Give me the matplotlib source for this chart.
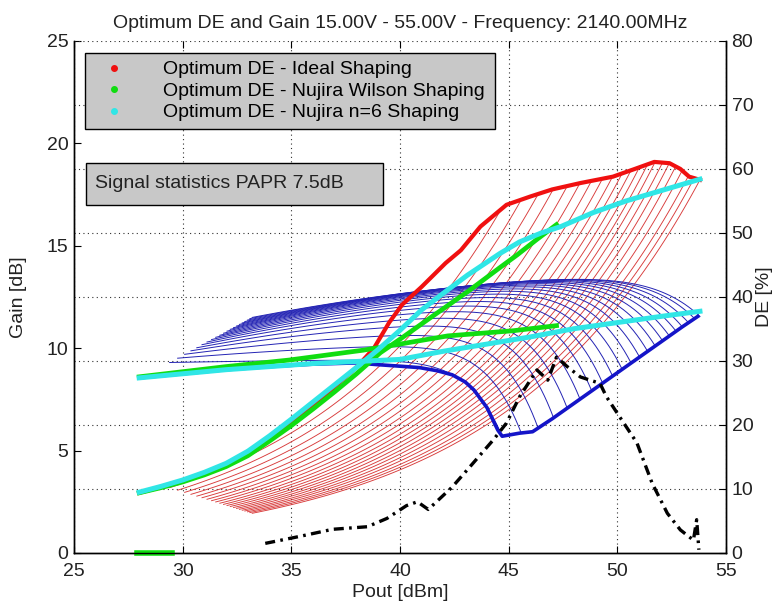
import numpy as np
import matplotlib
matplotlib.use("Agg")
import matplotlib.pyplot as plt
from matplotlib.lines import Line2D
from matplotlib.patches import Rectangle
from matplotlib.transforms import blended_transform_factory

plt.rcParams['font.family'] = ['Liberation Sans', 'DejaVu Sans']

# ---------------- texts ----------------
title = "Optimum DE and Gain 15.00V - 55.00V - Frequency: 2140.00MHz"
x_label = "Pout [dBm]"
gain_label = "Gain [dB]"
de_label = "DE [%]"
legend_labels = ["Optimum DE - Ideal Shaping",
                 "Optimum DE - Nujira Wilson Shaping",
                 "Optimum DE - Nujira n=6 Shaping"]
note_text = "Signal statistics PAPR 7.5dB"

x_ticks = [25, 30, 35, 40, 45, 50, 55]
gain_ticks = [0, 5, 10, 15, 20, 25]
de_ticks = [0, 10, 20, 30, 40, 50, 60, 70, 80]

# ---------------- per-supply-voltage sweeps (thin lines) ----------------
supply_v = [15, 17, 19, 21, 23, 25, 27, 29, 31, 33, 35, 37, 39, 41, 43, 45, 47, 49, 51, 53, 55]
sweep_p_start = [29.40, 29.77, 30.09, 30.38, 30.65, 30.89, 31.12, 31.33, 31.52, 31.71, 31.88,
                 32.04, 32.19, 32.34, 32.48, 32.61, 32.74, 32.86, 32.98, 33.09, 33.20]
sweep_p_end = [44.70, 45.58, 46.36, 47.06, 47.69, 48.28, 48.82, 49.32, 49.78, 50.22, 50.63,
               51.02, 51.39, 51.74, 52.08, 52.39, 52.70, 52.99, 53.27, 53.54, 53.80]
sweep_gain_start = [9.30, 9.51, 9.70, 9.87, 10.02, 10.17, 10.30, 10.42, 10.53, 10.63, 10.73,
                    10.83, 10.92, 11.00, 11.08, 11.16, 11.23, 11.30, 11.37, 11.44, 11.50]
sweep_gain_peak = [9.45, 10.21, 10.82, 11.32, 11.73, 12.07, 12.36, 12.59, 12.79, 12.96, 13.10,
                   13.21, 13.31, 13.39, 13.45, 13.50, 13.54, 13.57, 13.59, 13.60, 13.60]
sweep_gain_end = [5.70, 5.85, 6.08, 6.61, 7.08, 7.52, 7.92, 8.30, 8.64, 8.97, 9.28,
                  9.57, 9.85, 10.11, 10.36, 10.60, 10.83, 11.04, 11.25, 11.46, 11.55]
sweep_de_start = [10.20, 9.81, 9.47, 9.16, 8.88, 8.63, 8.39, 8.17, 7.97, 7.77, 7.59,
                  7.42, 7.26, 7.10, 6.96, 6.82, 6.68, 6.56, 6.43, 6.31, 6.20]
sweep_de_end = [54.0, 55.2, 56.1, 56.9, 57.3, 57.8, 58.2, 58.5, 58.8, 59.3, 59.8,
                60.3, 60.7, 61.1, 61.0, 60.9, 60.5, 59.8, 58.9, 58.6, 58.3]
gain_knee = 10.0

# ---------------- optimum curves (thick lines) ----------------
ideal_de_p = [28.0, 30.0, 32.0, 34.0, 36.0, 38.0, 38.8, 39.5, 40.1, 41.0, 42.1, 42.8, 43.7,
              44.9, 46.0, 47.0, 48.3, 49.8, 50.8, 51.7, 52.4, 52.9, 53.3, 53.8]
ideal_de = [9.4, 11.2, 13.8, 17.9, 23.0, 29.0, 32.0, 36.0, 38.8, 41.6, 45.3, 47.3, 51.0,
            54.4, 55.7, 56.8, 57.8, 58.8, 60.0, 61.1, 60.9, 60.0, 58.8, 58.3]

wilson_de_p = [28.0, 29.0, 30.0, 31.0, 32.0, 33.0, 34.0, 35.0, 36.0, 37.0, 38.0, 39.1, 40.0,
               41.5, 43.1, 44.6, 45.4, 46.3, 47.2]
wilson_de = [9.4, 10.2, 11.1, 12.2, 13.5, 15.2, 17.5, 19.9, 22.5, 25.2, 28.0, 31.3, 33.4,
             37.0, 40.8, 44.6, 46.6, 49.0, 51.3]

n6_de_p = [28.0, 29.0, 30.0, 31.0, 32.0, 33.0, 34.0, 35.0, 36.0, 37.0, 38.0, 39.0, 40.0, 41.0,
           42.0, 43.1, 44.6, 45.5, 46.5, 47.4, 48.9, 50.4, 52.0, 53.0, 53.8]
n6_de = [9.5, 10.4, 11.4, 12.6, 14.0, 15.9, 18.3, 20.9, 23.6, 26.3, 29.0, 31.8, 34.8, 38.0,
         40.6, 43.4, 46.8, 48.6, 50.0, 51.0, 53.2, 55.0, 56.6, 57.6, 58.4]

n6_gain_p = [28.0, 30.0, 32.0, 34.0, 36.0, 38.0, 40.0, 42.0, 44.0, 46.0, 48.0, 50.0, 52.0, 53.8]
n6_gain = [8.55, 8.75, 8.95, 9.1, 9.25, 9.35, 9.45, 9.85, 10.2, 10.55, 10.95, 11.25, 11.55, 11.8]

wilson_gain_p = [28.0, 30.0, 32.0, 34.9, 38.3, 40.0, 42.2, 45.2, 47.2]
wilson_gain = [8.6, 8.85, 9.1, 9.42, 9.9, 10.2, 10.6, 10.85, 11.1]

ideal_gain_p = [28.0, 30.0, 32.0, 34.0, 36.0, 38.0, 38.9, 40.0, 40.9, 41.7, 42.4, 43.0, 43.4,
                44.0, 44.5, 44.7, 45.5, 46.1, 47.0, 48.0, 49.0, 50.0, 51.0, 52.0, 53.0, 53.7]
ideal_gain = [8.55, 8.75, 8.95, 9.1, 9.22, 9.28, 9.2, 9.12, 9.05, 8.9, 8.7, 8.35, 7.96,
              7.1, 6.0, 5.7, 5.85, 5.92, 6.55, 7.3, 8.05, 8.8, 9.55, 10.3, 11.05, 11.55]

wilson_zero_p = [27.9, 29.5]
wilson_zero = [0.0, 0.0]

stats_p = [33.8, 35.4, 36.9, 38.5, 39.4, 40.3, 40.8, 41.3, 42.4, 43.2, 44.3, 44.9, 45.5, 46.3,
           46.8, 47.2, 47.7, 48.3, 49.2, 49.5, 50.1, 50.9, 51.6, 52.3, 52.9, 53.5, 53.65, 53.75]
stats_de = [1.5, 2.6, 3.7, 4.1, 5.4, 7.4, 8.0, 6.8, 10.3, 13.4, 17.7, 20.3, 24.4, 28.6,
            27.0, 30.6, 29.1, 27.5, 26.5, 24.4, 21.3, 17.2, 10.9, 6.2, 3.6, 2.0, 5.2, 0.5]

# ---------------- colours ----------------
c_red = '#f01010'
c_green = '#10dd10'
c_cyan = '#30e6e6'
c_blue = '#1414c8'
c_red_thin = '#d83a3a'
c_blue_thin = '#2424b4'
c_box = '#c8c8c8'
c_grid = '#303030'

# ---------------- figure ----------------
fig = plt.figure(figsize=(7.78, 6.05), dpi=100)
ax = fig.add_axes([0.0951, 0.0860, 0.8381, 0.8463])
ax_de = ax.twinx()
ax.set_xlim(25, 55)
ax.set_ylim(0, 25)
ax_de.set_ylim(0, 80)
de_tr = ax_de.transData

# thin sweep lines
for i in range(len(supply_v)):
    p = np.linspace(sweep_p_start[i], sweep_p_end[i], 90)
    u = (p - sweep_p_start[i]) / (sweep_p_end[i] - sweep_p_start[i])
    de = sweep_de_start[i] * (sweep_de_end[i] / sweep_de_start[i]) ** u
    ax.plot(p, de, color=c_red_thin, lw=0.65, transform=de_tr, zorder=1)
for i in range(len(supply_v)):
    p = np.linspace(sweep_p_start[i], sweep_p_end[i], 120)
    u = (p - sweep_p_start[i]) / (sweep_p_end[i] - sweep_p_start[i])
    g = (sweep_gain_start[i] + (sweep_gain_peak[i] - sweep_gain_start[i]) * (1 - (1 - u) ** 2)
         - (sweep_gain_peak[i] - sweep_gain_end[i]) * u ** gain_knee)
    ax.plot(p, g, color=c_blue_thin, lw=0.7, zorder=2)

# thick optimum lines
ax.plot(ideal_gain_p, ideal_gain, color=c_blue, lw=2.6, zorder=3)
ax.plot(ideal_de_p, ideal_de, color=c_red, lw=3.0, transform=de_tr, zorder=4)
ax.plot(wilson_de_p, wilson_de, color=c_green, lw=3.4, transform=de_tr, zorder=5)
ax.plot(wilson_gain_p, wilson_gain, color=c_green, lw=3.4, zorder=5)
ax.plot(n6_de_p, n6_de, color=c_cyan, lw=3.6, transform=de_tr, zorder=6)
ax.plot(n6_gain_p, n6_gain, color=c_cyan, lw=3.6, zorder=6)
ax.plot(stats_p, stats_de, color='black', lw=2.4, transform=de_tr, zorder=7,
        linestyle=(0, (3.0, 1.6, 0.8, 1.6)))
ax.plot(wilson_zero_p, wilson_zero, color=c_green, lw=4.0, zorder=8, clip_on=False)

# grid
ax.set_xticks(x_ticks)
ax.set_yticks(gain_ticks)
ax_de.set_yticks(de_ticks)
ax.xaxis.grid(True, linestyle=(0, (1, 3)), color=c_grid, lw=0.8)
ax.set_axisbelow(True)
hl_tr = blended_transform_factory(ax.transAxes, de_tr)
for t in de_ticks[1:]:
    ax.plot([0, 1], [t, t], transform=hl_tr, linestyle=(0, (1, 3)), color=c_grid,
            lw=0.8, zorder=0.6)

# spines and ticks
for a in (ax, ax_de):
    a.spines['top'].set_visible(False)
    for s in ('left', 'right', 'bottom'):
        a.spines[s].set_linewidth(1.0)
        a.spines[s].set_color('black')
ax.tick_params(axis='x', direction='in', top=True, length=5, width=0.8,
               labelsize=14, pad=7, labelcolor='#222222')
ax.tick_params(axis='y', direction='in', left=True, right=False, length=5, width=0.8,
               labelsize=14, pad=4, labelcolor='#222222')
ax_de.tick_params(axis='y', direction='in', right=True, left=False, length=5, width=0.8,
                  labelsize=14, pad=4, labelcolor='#222222')

ax.set_title(title, fontsize=14, pad=9, color='#222222')
ax.set_xlabel(x_label, fontsize=14, labelpad=3, color='#222222')
ax.set_ylabel(gain_label, fontsize=14, labelpad=14, color='#222222')
ax_de.set_ylabel(de_label, fontsize=14, labelpad=2, color='#222222')

# legend
handles = [Line2D([], [], marker='.', linestyle='none', color=c, markersize=8)
           for c in (c_red, c_green, c_cyan)]
leg = ax.legend(handles, legend_labels, loc='upper left',
                bbox_to_anchor=(0.0169, 0.8027, 0.6288, 0.1738), mode='expand',
                borderaxespad=0, fontsize=14, frameon=True, fancybox=False,
                edgecolor='black', facecolor=c_box, framealpha=1, borderpad=0.4,
                labelspacing=0.2, handlelength=2.2, handletextpad=1.4)
leg.get_frame().set_linewidth(1.0)
leg.set_zorder(20)

# note box
ax.add_patch(Rectangle((0.0184, 0.6797), 0.4555, 0.0820, transform=ax.transAxes,
                       facecolor=c_box, edgecolor='black', lw=1.0, zorder=20))
ax.text(0.0322, 0.7207, note_text, transform=ax.transAxes, va='center', ha='left',
        fontsize=14, color='#222222', zorder=21)

fig.savefig('out.png', dpi=100)
